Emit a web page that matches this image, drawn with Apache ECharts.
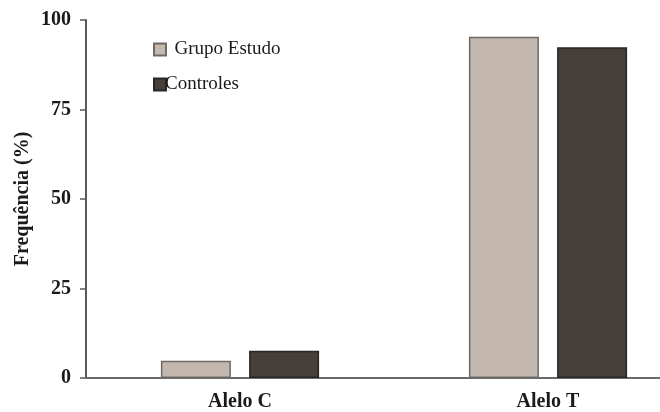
<!DOCTYPE html>
<html>
<head>
<meta charset="utf-8">
<script src="https://cdn.jsdelivr.net/npm/echarts@6/dist/echarts.min.js"></script>
<style>
html,body{margin:0;padding:0;background:#fff;}
#c{width:660px;height:412px;}
</style>
</head>
<body>
<div id="c"></div>
<script>
const categories = ['Alelo C', 'Alelo T'];
const grupoEstudo = [4.8, 95.3];
const controles = [7.6, 92.4];
const yTicks = [0, 25, 50, 75, 100];

const FONT = '"Liberation Serif", "Times New Roman", serif';
const chart = echarts.init(document.getElementById('c'), null, {renderer: 'canvas'});
chart.setOption({
  animation: false,
  backgroundColor: '#ffffff',
  textStyle: {fontFamily: FONT},
  grid: {left: 86, top: 20, bottom: 34, right: -42, containLabel: false, outerBoundsMode: 'none'},
  legend: {
    orient: 'vertical',
    left: 148,
    top: 35,
    itemWidth: 12,
    itemHeight: 12,
    itemGap: 16,
    icon: 'rect',
    formatter: function (n) { return n === 'Grupo Estudo' ? '  ' + n : n; },
    textStyle: {fontFamily: FONT, fontSize: 19, color: '#1a1a1a', padding: [0, 0, 0, -6]},
    data: ['Grupo Estudo', 'Controles']
  },
  xAxis: {
    type: 'category',
    data: categories,
    axisLine: {lineStyle: {color: '#6a6a6a', width: 2}},
    axisTick: {show: false},
    axisLabel: {fontFamily: FONT, fontSize: 20, fontWeight: 'bold', color: '#1a1a1a', margin: 14}
  },
  yAxis: {
    type: 'value',
    min: yTicks[0],
    max: yTicks[yTicks.length - 1],
    interval: 25,
    name: 'Frequência (%)',
    nameLocation: 'middle',
    nameGap: 53,
    nameMoveOverlap: false,
    nameRotate: 90,
    nameTextStyle: {fontFamily: FONT, fontSize: 20, fontWeight: 'bold', color: '#1a1a1a'},
    axisLine: {show: true, lineStyle: {color: '#5a5a5a', width: 2}},
    axisTick: {show: true, length: 6, lineStyle: {color: '#5a5a5a', width: 1.5}},
    splitLine: {show: false},
    axisLabel: {fontFamily: FONT, fontSize: 20, fontWeight: 'bold', color: '#1a1a1a', margin: 15}
  },
  series: [
    {
      name: 'Grupo Estudo',
      type: 'bar',
      data: grupoEstudo,
      barWidth: 70,
      barGap: '26%',
      itemStyle: {color: '#c4b7ae', borderColor: '#6e6a66', borderWidth: 1.5}
    },
    {
      name: 'Controles',
      type: 'bar',
      data: controles,
      barWidth: 70,
      barGap: '26%',
      itemStyle: {color: '#463f3a', borderColor: '#2a2622', borderWidth: 1.5}
    }
  ]
});
</script>
</body>
</html>
